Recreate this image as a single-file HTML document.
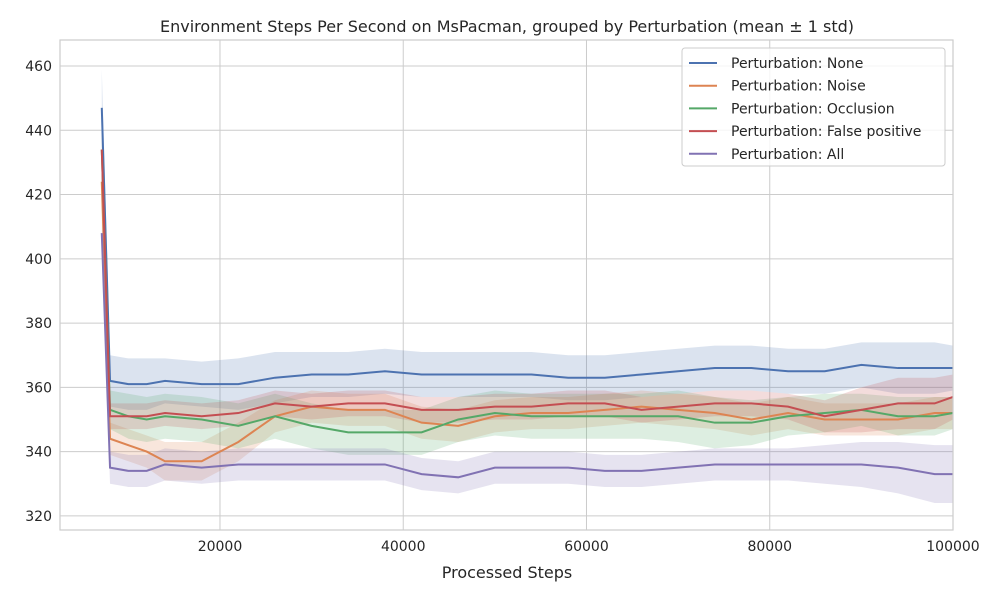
<!DOCTYPE html>
<html><head><meta charset="utf-8"><style>
body{margin:0;background:#fff;font-family:"Liberation Sans","DejaVu Sans",sans-serif;}
svg text{font-family:"DejaVu Sans","Liberation Sans",sans-serif;fill:#262626;}
</style></head><body>
<svg id="chart" width="1000" height="600" xmlns="http://www.w3.org/2000/svg">
<rect width="1000" height="600" fill="#fff"/>
<text x="507" y="32" font-size="16" text-anchor="middle">Environment Steps Per Second on MsPacman, grouped by Perturbation (mean ± 1 std)</text>
<g id="grid"></g><g id="bands"></g><g id="lines"></g><g id="axes"></g>
<text x="507" y="578" font-size="16" text-anchor="middle">Processed Steps</text>
<g id="legend"></g>
</svg>
<script>
const steps=[7100,8000,10000,12000,14000,18000,22000,26000,30000,34000,38000,42000,46000,50000,54000,58000,62000,66000,70000,74000,78000,82000,86000,90000,94000,98000,100000];
const seriesNames=["Perturbation: None","Perturbation: Noise","Perturbation: Occlusion","Perturbation: False positive","Perturbation: All"];
const colors=["#4c72b0","#dd8452","#55a868","#c44e52","#8172b3"];
const meanNone=[447,362,361,361,362,361,361,363,364,364,365,364,364,364,364,363,363,364,365,366,366,365,365,367,366,366,366];
const meanNoise=[424,344,342,340,337,337,343,351,354,353,353,349,348,351,352,352,353,354,353,352,350,352,350,350,350,352,352];
const meanOcclusion=[434,353,351,350,351,350,348,351,348,346,346,346,350,352,351,351,351,351,351,349,349,351,352,353,351,351,352];
const meanFalsePos=[434,351,351,351,352,351,352,355,354,355,355,353,353,354,354,355,355,353,354,355,355,354,351,353,355,355,357];
const meanAll=[408,335,334,334,336,335,336,336,336,336,336,333,332,335,335,335,334,334,335,336,336,336,336,336,335,333,333];
const stdNone=[12,8,8,8,7,7,8,8,7,7,7,7,7,7,7,7,7,7,7,7,7,7,7,7,8,8,7];
const stdNoise=[8,5,5,5,6,6,6,5,5,5,5,5,5,5,5,5,5,5,5,5,5,5,5,5,5,5,5];
const stdOcclusion=[8,6,7,7,7,7,7,7,7,7,7,7,7,7,7,7,7,7,8,8,7,6,6,5,6,6,5];
const stdFalsePos=[8,4,4,4,4,4,4,4,4,4,4,4,4,4,4,4,4,4,4,4,4,4,5,7,8,8,7];
const stdAll=[6,5,5,5,5,5,5,5,5,5,5,5,5,5,5,5,5,5,5,5,5,5,6,7,8,9,9];
const xTicks=[20000,40000,60000,80000,100000];
const yTicks=[320,340,360,380,400,420,440,460];
const means=[meanNone,meanNoise,meanOcclusion,meanFalsePos,meanAll];
const stds=[stdNone,stdNoise,stdOcclusion,stdFalsePos,stdAll];
const L=60,R=953,T=40,B=530;
const xmin=2540,xmax=100000,ymin=315.6,ymax=468.1;
const X=v=>L+(v-xmin)/(xmax-xmin)*(R-L);
const Y=v=>B-(v-ymin)/(ymax-ymin)*(B-T);
const NS="http://www.w3.org/2000/svg";
function mk(tag,attrs,parent){const e=document.createElementNS(NS,tag);for(const k in attrs)e.setAttribute(k,attrs[k]);parent.appendChild(e);return e;}
const grid=document.getElementById('grid'),axes=document.getElementById('axes');
xTicks.forEach(t=>{const l=mk('line',{x1:X(t),x2:X(t),y1:T,y2:B,stroke:'#cccccc','stroke-width':1},grid);

const tx=mk('text',{x:X(t),y:B+21,'font-size':14,'text-anchor':'middle'},axes);tx.textContent=t;
});
yTicks.forEach(t=>{const l=mk('line',{x1:L,x2:R,y1:Y(t),y2:Y(t),stroke:'#cccccc','stroke-width':1},grid);

const tx=mk('text',{x:L-8,y:Y(t)+5,'font-size':14,'text-anchor':'end'},axes);tx.textContent=t;
});
const frame=mk('rect',{x:L,y:T,width:R-L,height:B-T,fill:'none',stroke:'#cccccc','stroke-width':1.2},axes);

const bands=document.getElementById('bands'),lines=document.getElementById('lines');
means.forEach((m,i)=>{
 const up=steps.map((s,j)=>X(s)+','+Y(m[j]+stds[i][j]));
 const dn=steps.map((s,j)=>X(s)+','+Y(m[j]-stds[i][j])).reverse();
 const b=mk('polygon',{points:up.concat(dn).join(' '),fill:colors[i],'fill-opacity':0.2},bands);
 
 const p=mk('polyline',{points:steps.map((s,j)=>X(s)+','+Y(m[j])).join(' '),fill:'none',stroke:colors[i],'stroke-width':2},lines);
 
});
const lg=document.getElementById('legend');
const box=mk('rect',{x:682,y:48,width:263,height:118,rx:3,fill:'#fff','fill-opacity':0.8,stroke:'#cccccc'},lg);

seriesNames.forEach((n,i)=>{const y=63+i*22.7;
 const g=mk('g',{},lg);
 mk('line',{x1:689,x2:717,y1:y,y2:y,stroke:colors[i],'stroke-width':2},g);
 const t=mk('text',{x:731,y:y+5,'font-size':14},g);t.textContent=n;});
</script>
</body></html>
